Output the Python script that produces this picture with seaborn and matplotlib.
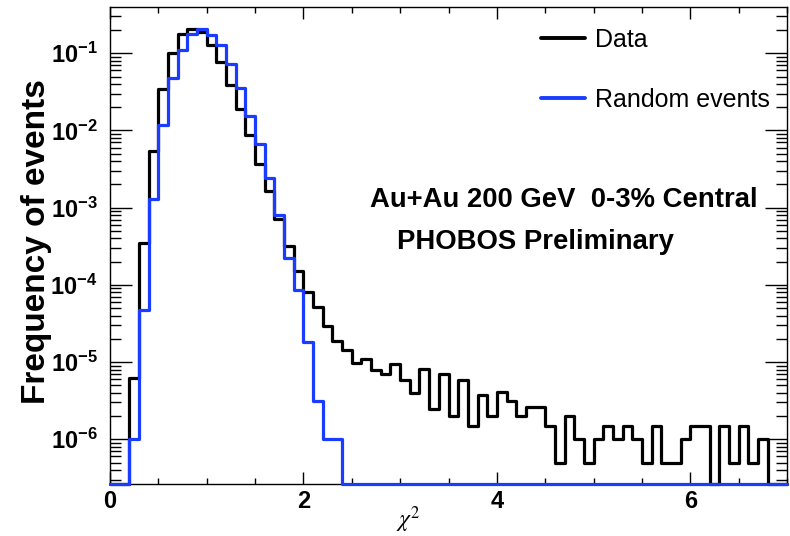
import numpy as np
import pandas as pd
import matplotlib
matplotlib.use("Agg")
import matplotlib.pyplot as plt
from matplotlib.ticker import LogLocator, FixedLocator, MultipleLocator, FuncFormatter, NullFormatter
from matplotlib.lines import Line2D
import seaborn as sns

# ---------------- data (bin width 0.1, chi2 from 0 to 7) ----------------
bin_edges = [round(0.1 * i, 1) for i in range(71)]

data_freq = [
    0, 0, 6.2e-6, 3.5e-4, 5.4e-3, 0.034, 0.10, 0.18, 0.204, 0.186,
    0.127, 0.076, 0.039, 0.019, 8.7e-3, 3.7e-3, 1.65e-3, 7.1e-4, 3.2e-4, 1.5e-4,
    8.0e-5, 5.1e-5, 2.9e-5, 1.9e-5, 1.42e-5, 9.8e-6, 1.1e-5, 7.8e-6, 7.1e-6, 9.5e-6,
    5.8e-6, 4.0e-6, 8.1e-6, 2.5e-6, 7.0e-6, 2.0e-6, 5.8e-6, 1.48e-6, 3.8e-6, 2.0e-6,
    4.1e-6, 3.1e-6, 2.0e-6, 2.6e-6, 2.6e-6, 1.48e-6, 4.9e-7, 2.0e-6, 1.0e-6, 4.9e-7,
    1.0e-6, 1.5e-6, 1.0e-6, 1.5e-6, 1.0e-6, 4.9e-7, 1.5e-6, 4.9e-7, 4.9e-7, 1.0e-6,
    1.5e-6, 1.5e-6, 0, 1.5e-6, 4.9e-7, 1.5e-6, 4.9e-7, 1.0e-6, 0, 0,
]

random_freq = [
    0, 0, 1.0e-6, 4.7e-5, 1.3e-3, 0.0117, 0.048, 0.11, 0.18, 0.205,
    0.174, 0.127, 0.073, 0.036, 0.0154, 6.6e-3, 2.4e-3, 8.1e-4, 2.2e-4, 8.7e-5,
    1.8e-5, 3.1e-6, 1.0e-6, 1.0e-6, 0, 0, 0, 0, 0, 0,
    0, 0, 0, 0, 0, 0, 0, 0, 0, 0,
    0, 0, 0, 0, 0, 0, 0, 0, 0, 0,
    0, 0, 0, 0, 0, 0, 0, 0, 0, 0,
    0, 0, 0, 0, 0, 0, 0, 0, 0, 0,
]

series_labels = ["Data", "Random events"]
y_tick_exponents = [-1, -2, -3, -4, -5, -6]
x_tick_labels = ["0", "2", "4", "6"]

# ---------------- style ----------------
sns.set_style("ticks")
plt.rcParams["font.family"] = ["Liberation Sans", "DejaVu Sans"]
plt.rcParams["mathtext.fontset"] = "custom"
plt.rcParams["mathtext.rm"] = "Liberation Sans"
plt.rcParams["mathtext.bf"] = "Liberation Sans:bold"
plt.rcParams["mathtext.it"] = "Liberation Sans:italic"
for key in ["text.color", "axes.labelcolor", "xtick.color", "ytick.color", "axes.edgecolor"]:
    plt.rcParams[key] = "black"

Y_MIN, Y_MAX = 2.61e-7, 0.394
X_MIN, X_MAX = 0.0, 7.0

fig = plt.figure(figsize=(7.9, 5.36), dpi=100)
W, H = 790, 536
ax_l, ax_r, ax_t, ax_b = 110, 787, 7.3, 484.3
ax = fig.add_axes([ax_l / W, 1 - ax_b / H, (ax_r - ax_l) / W, (ax_b - ax_t) / H])

edges = np.array(bin_edges)
centers = (edges[:-1] + edges[1:]) / 2

colors = {"Data": "black", "Random events": "#1a3cff"}
for label, vals in zip(series_labels, [data_freq, random_freq]):
    v = np.asarray(vals, dtype=float)
    shown = np.where(v > 0, v, Y_MIN)  # empty bins drawn on the axis floor (ROOT style)
    df = pd.DataFrame({"chi2": centers, "freq": shown})
    sns.histplot(data=df, x="chi2", weights="freq", bins=list(bin_edges), element="step",
                 fill=False, color=colors[label], linewidth=2.3, ax=ax,
                 clip_on=False, label=label, zorder=3 if label == "Data" else 4)

ax.set_yscale("log")
ax.set_xlim(X_MIN, X_MAX)
ax.set_ylim(Y_MIN, Y_MAX)

# ticks
ax.xaxis.set_minor_locator(MultipleLocator(0.5))
ax.set_xticks([0, 2, 4, 6])
ax.set_xticklabels(x_tick_labels)
ax.yaxis.set_major_locator(FixedLocator([10.0 ** e for e in y_tick_exponents]))
ax.yaxis.set_minor_locator(LogLocator(base=10, subs=np.arange(2, 10), numticks=20))
ax.yaxis.set_major_formatter(FuncFormatter(lambda v, p: r"$\mathbf{10^{%d}}$" % round(np.log10(v))))
ax.yaxis.set_minor_formatter(NullFormatter())

ax.tick_params(axis="x", which="major", direction="in", length=8.5, width=1.0,
               top=True, bottom=True, labelsize=17, pad=4)
ax.tick_params(axis="x", which="minor", direction="in", length=4, width=1.0,
               top=True, bottom=True)
ax.tick_params(axis="y", which="major", direction="in", length=15.5, width=1.0,
               left=True, right=True, labelsize=17, pad=9)
ax.tick_params(axis="y", which="minor", direction="in", length=8, width=1.0,
               left=True, right=True)
for lab in ax.get_xticklabels():
    lab.set_fontweight("bold")
for s in ax.spines.values():
    s.set_linewidth(1.0)
    s.set_color("black")

ax.set_xlabel("")
ax.set_ylabel("")

fig.text(37 / W, 1 - 242 / H, "Frequency of events", rotation=90, ha="center",
         va="center", fontsize=24, fontweight="bold")
fig.text(408 / W, 1 - 520 / H, r"$\chi^{2}$", ha="center", va="center",
         fontsize=17, math_fontfamily="stix")

ax.text(370 / W, 1 - 200 / H, "Au+Au 200 GeV  0-3% Central", transform=fig.transFigure,
        ha="left", va="center", fontsize=19.8, fontweight="bold")
ax.text(397 / W, 1 - 242 / H, "PHOBOS Preliminary", transform=fig.transFigure,
        ha="left", va="center", fontsize=19.8, fontweight="bold")

handles = [Line2D([], [], color=colors[l], linewidth=2.8) for l in series_labels]
ax.legend(handles, series_labels, loc="upper left",
          bbox_to_anchor=((541 - ax_l) / (ax_r - ax_l), (ax_b - 28) / (ax_b - ax_t)),
          frameon=False, fontsize=18, handlelength=1.75, handletextpad=0.42,
          labelspacing=1.45, borderpad=0, borderaxespad=0)

fig.savefig("out.png", dpi=100)
